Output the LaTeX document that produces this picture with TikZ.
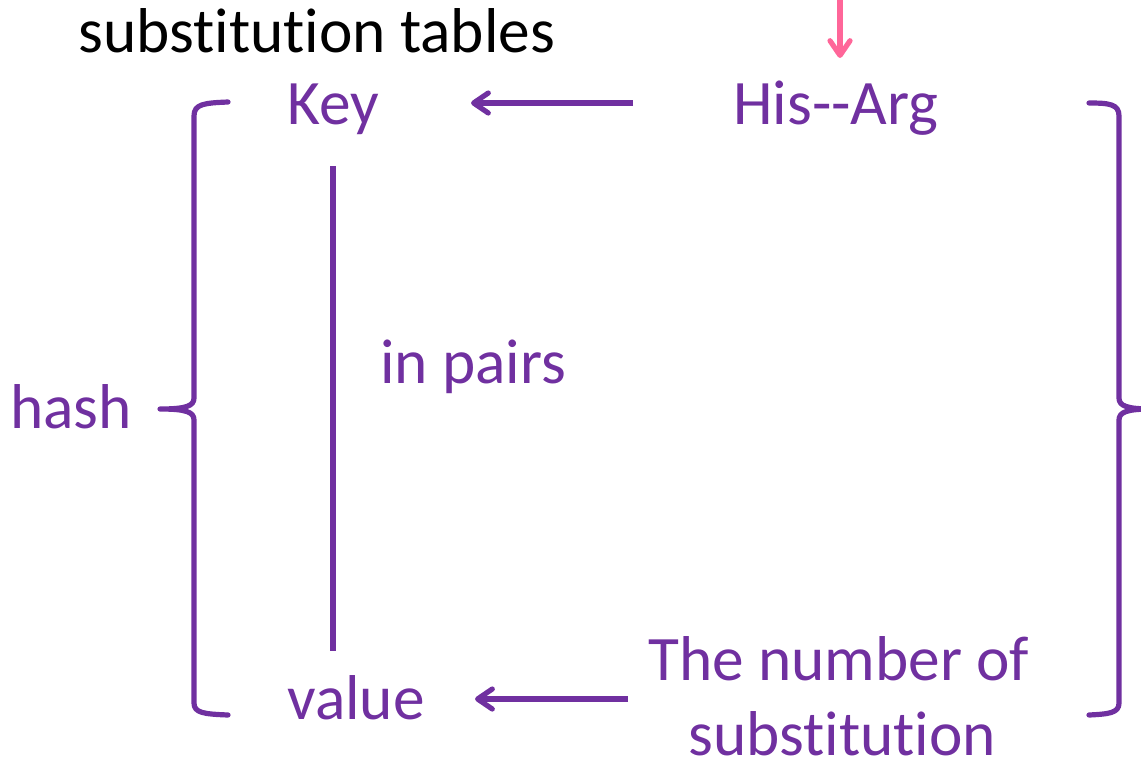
\documentclass[tikz,border=0pt]{standalone}
\usepackage{fontspec}
\setmainfont{Carlito}[Ligatures=NoCommon]
\usetikzlibrary{arrows.meta}
\definecolor{vio}{HTML}{7030A0}
\definecolor{rose}{HTML}{FF6699}
\begin{document}
\begin{tikzpicture}[x=0.75pt,y=-0.75pt,
  lbl/.style={anchor=base west,inner sep=0pt,text=vio,font=\fontsize{47.5}{57}\selectfont},
  brace/.style={draw=vio,line width=3.9pt,line cap=round,line join=round},
  arr/.style={draw=vio,line width=3.9pt,-{Straight Barb[length=11pt,width=15pt,line cap=round,line join=round]}},
  bar/.style={draw=vio,line width=4.2pt}]
\useasboundingbox (0,0) rectangle (1141,761);
\clip (0,0) rectangle (1141,761);

% labels
\node[lbl,text=black] (title) at (78,52) {substitution tables};
\node[lbl] (key) at (287,124) {Key};
\node[lbl] (his) at (733,124) {His-{}-Arg};
\node[lbl] (pairs) at (380,383) {in pairs};
\node[lbl] (hash) at (10,428) {hash};
\node[lbl] (value) at (287,719) {value};
\node[lbl] (num1) at (648,680) {The number of};
\node[lbl] (num2) at (688,755) {substitution};

% connector end points
\coordinate (inTop) at (840,-5);
\coordinate (inTip) at (840,58);
\coordinate (hisA) at (633,103);
\coordinate (keyA) at (471,103);
\coordinate (numA) at (628,699);
\coordinate (valA) at (475,699);
\coordinate (barT) at (333,166);
\coordinate (barB) at (333,651);

% incoming arrow above His--Arg
\draw[draw=rose,line width=3.9pt,-{Straight Barb[length=11pt,width=15pt,line cap=round,line join=round]}] (inTop) -- (inTip);

% key/value pair links
\draw[arr] (hisA) -- (keyA);
\draw[arr] (numA) -- (valA);
\draw[bar] (barT) -- (barB);

% left brace
\draw[brace] (228,102) .. controls (204,103) and (194,104) .. (194,116)
  -- (194,398) .. controls (194,406) and (186,409) .. (160,409)
  .. controls (186,409) and (194,412) .. (194,420)
  -- (194,703) .. controls (194,713) and (204,714) .. (228,715);

% right brace
\draw[brace] (1089,103) .. controls (1109,103) and (1119,104) .. (1119,116)
  -- (1119,398) .. controls (1119,406) and (1127,409) .. (1152,409)
  .. controls (1127,409) and (1119,412) .. (1119,420)
  -- (1119,703) .. controls (1119,713) and (1109,714) .. (1089,715);
\end{tikzpicture}
\end{document}
